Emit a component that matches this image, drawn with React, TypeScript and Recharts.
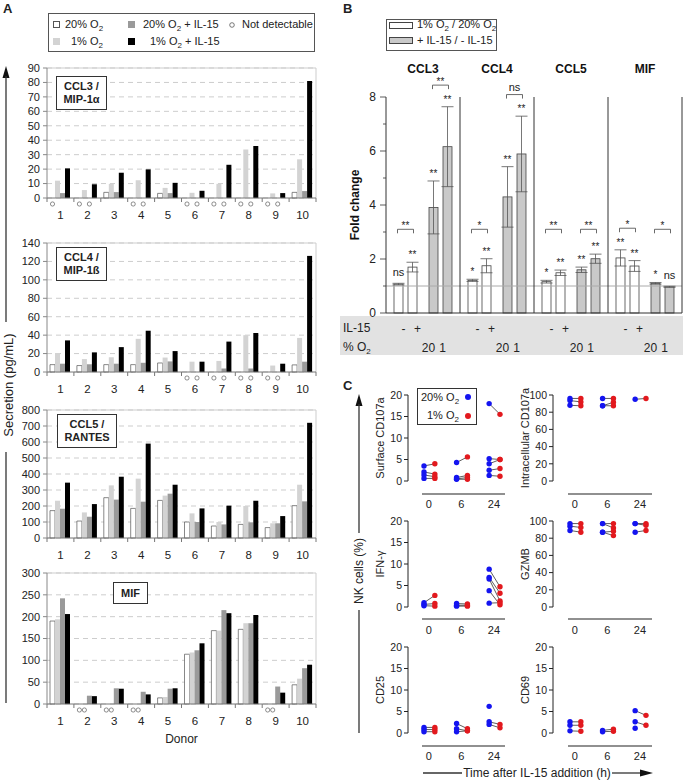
import React from "react";
import {
  BarChart,
  Bar,
  XAxis,
  YAxis,
  CartesianGrid,
  ReferenceLine,
  ErrorBar,
  LineChart,
  Line,
  Label,
} from "recharts";

const FONT = "'Liberation Sans', Arial, Helvetica, sans-serif";

// ---------- Panel A: secretion per donor (pg/mL); null = not detectable ----------
const donors = ["1", "2", "3", "4", "5", "6", "7", "8", "9", "10"];

const ccl3Normoxia = [null, null, 3.9, null, 3.2, null, null, null, null, 3.9];
const ccl3Hypoxia = [12, 5.5, 9.8, 12.3, 7, 3.6, 9.8, 33.6, 3.2, 26.8];
const ccl3NormoxiaIl15 = [3.4, null, 4.1, null, 3.4, null, null, null, null, 4.8];
const ccl3HypoxiaIl15 = [20.5, 9.5, 17.5, 19.8, 10.5, 5, 23, 36, 3.4, 81];
const ccl3NotDetectable = [[0], [0, 2], [], [0, 2], [], [0, 2], [0, 2], [0, 2], [0, 2], []];
const ccl3Ticks = [0, 10, 20, 30, 40, 50, 60, 70, 80, 90];

const ccl4Normoxia = [8, 7, 8, 8, 9.8, null, null, null, null, 7.7];
const ccl4Hypoxia = [20.6, 14, 16, 36, 15.7, 11.2, 12, 40, 7, 37];
const ccl4NormoxiaIl15 = [9, 8.4, 9, 10, 11.5, null, 3.8, 3.8, null, 11.2];
const ccl4HypoxiaIl15 = [34.3, 21.3, 27, 44.8, 22.7, 11.2, 33, 42.3, 9, 126];
const ccl4NotDetectable = [[], [], [], [], [], [0, 2], [0, 2], [0, 2], [0, 2], []];
const ccl4Ticks = [0, 20, 40, 60, 80, 100, 120, 140];

const ccl5Normoxia = [171, 106, 252, 185, 235, 100, 75, 85, 65, 202];
const ccl5Hypoxia = [233, 160, 329, 371, 265, 154, 100, 200, 92, 333];
const ccl5NormoxiaIl15 = [183, 133, 240, 227, 277, 100, 85, 98, 92, 229];
const ccl5HypoxiaIl15 = [346, 212, 383, 590, 333, 185, 202, 233, 137, 720];
const ccl5NotDetectable = [[], [], [], [], [], [], [], [], [], []];
const ccl5Ticks = [0, 100, 200, 300, 400, 500, 600, 700, 800];

const mifNormoxia = [190, null, null, null, 14, 114, 168, 171, null, 44];
const mifHypoxia = [194, null, null, null, 16, 118, 168, 185, null, 58];
const mifNormoxiaIl15 = [242, 19, 36, 28, 35, 123, 215, 185, 40, 82];
const mifHypoxiaIl15 = [206, 18, 35, 22, 36, 139, 208, 204, 26, 90];
const mifNotDetectable = [[], [0, 1], [0, 1], [0, 1], [], [], [], [], [0, 1], []];
const mifTicks = [0, 50, 100, 150, 200, 250, 300];

// ---------- Panel B: fold change ----------
const cytokines = ["CCL3", "CCL4", "CCL5", "MIF"];
const hypoxiaNoIl15 = [1.07, 1.21, 1.16, 2.04];
const hypoxiaNoIl15Sem = [0.03, 0.04, 0.05, 0.3];
const hypoxiaNoIl15Sig = ["ns", "*", "*", "**"];
const hypoxiaIl15 = [1.7, 1.75, 1.49, 1.74];
const hypoxiaIl15Sem = [0.18, 0.26, 0.1, 0.2];
const hypoxiaIl15Sig = ["**", "**", "**", "**"];
const il15Normoxia = [3.91, 4.3, 1.6, 1.1];
const il15NormoxiaSem = [0.98, 1.12, 0.1, 0.03];
const il15NormoxiaSig = ["**", "**", "**", "*"];
const il15Hypoxia = [6.16, 5.89, 2.01, 0.97];
const il15HypoxiaSem = [1.48, 1.4, 0.17, 0.02];
const il15HypoxiaSig = ["**", "**", "**", "ns"];
const hypoxiaPairSig = ["**", "*", "**", "*"];
const il15PairSig = ["**", "ns", "**", "*"];
const foldTicks = [0, 1, 2, 3, 4, 5, 6, 7, 8];
const il15Row = ["-", "+"];
const o2Row = ["20", "1"];

// ---------- Panel C: NK cells (%), pairs [time, 20% O2, 1% O2] ----------
const times = ["0", "6", "24"];
type Pair = [string, number, number | null];
const surfaceCd107a: Pair[] = [
  ["0", 3.5, 4.0], ["0", 2.1, 1.6], ["0", 1.4, 1.0], ["0", 0.6, 0.6],
  ["6", 4.3, 5.6], ["6", 0.8, 1.3], ["6", 0.5, 0.8], ["6", 0.4, 0.4],
  ["24", 18, 15.5], ["24", 5.2, 5.0], ["24", 4.0, 5.0], ["24", 2.5, 2.9], ["24", 1.3, 1.1],
];
const intracellularCd107a: Pair[] = [
  ["0", 96, 96], ["0", 93.5, 92], ["0", 88, 87.5],
  ["6", 96, 96], ["6", 87.5, 91.5], ["6", 87.5, 87.5],
  ["24", 95, 96],
];
const ifng: Pair[] = [
  ["0", 1.0, 2.7], ["0", 0.6, 0.8], ["0", 0.3, 0.2],
  ["6", 0.8, 0.7], ["6", 0.4, 0.4], ["6", 0.2, 0.2],
  ["24", 8.8, 4.7], ["24", 6.9, 3.2], ["24", 6.5, 1.4], ["24", 3.8, 0.5], ["24", 0.9, 1.0],
];
const gzmb: Pair[] = [
  ["0", 97, 97], ["0", 94, 92.5], ["0", 89, 87],
  ["6", 97, 97], ["6", 97, 92], ["6", 87, 88], ["6", 87, 83],
  ["24", 97, 97], ["24", 97, 95], ["24", 87, 89],
];
const cd25: Pair[] = [
  ["0", 1.3, 1.3], ["0", 0.8, 0.8], ["0", 0.3, 0.3],
  ["6", 2.2, 1.0], ["6", 1.0, 0.5], ["6", 0.3, 0.5],
  ["24", 6.2, null], ["24", 2.6, 2.0], ["24", 2.0, 1.2],
];
const cd69: Pair[] = [
  ["0", 2.6, 2.6], ["0", 1.8, 1.8], ["0", 0.5, 0.4],
  ["6", 0.6, 0.9], ["6", 0.3, 0.4],
  ["24", 5.2, 4.1], ["24", 2.6, 1.8], ["24", 1.1, null],
];
const percentTicks20 = [0, 5, 10, 15, 20];
const percentTicks100 = [0, 20, 40, 60, 80, 100];

const BLUE = "#1414f0";
const RED = "#e2191e";

// ---------- helpers ----------
function secretionRows(a: any[], b: any[], c: any[], d: any[]) {
  return donors.map((donor, i) => ({
    donor,
    normoxia: a[i],
    hypoxia: b[i],
    normoxiaIl15: c[i],
    hypoxiaIl15: d[i],
  }));
}

const A_BAND = (316 - 47) / 10;
const A_BAR = 5;

function DonorTick(props: any) {
  const { x, y, payload, nd } = props;
  const i = payload.index ?? props.index;
  const start = x - A_BAND / 2;
  const groupStart = start + Math.floor((A_BAND - 4 * A_BAR) / 2);
  return (
    <g>
      <line x1={start} x2={start} y1={y} y2={y + 4} stroke="#777" />
      {i === donors.length - 1 && (
        <line x1={start + A_BAND} x2={start + A_BAND} y1={y} y2={y + 4} stroke="#777" />
      )}
      {(nd[i] || []).map((s: number) => (
        <circle
          key={s}
          cx={groupStart + A_BAR / 2 + s * A_BAR}
          cy={y + 6}
          r={2.1}
          fill="#fff"
          stroke="#444"
          strokeWidth={0.6}
        />
      ))}
      <text x={x} y={y + 21} textAnchor="middle" fontSize={11.5} fill="#222">
        {payload.value}
      </text>
    </g>
  );
}

function SecretionChart({ top, plotHeight, ticks, rows, nd, xLabel }: any) {
  const max = ticks[ticks.length - 1];
  const axisH = xLabel ? 45 : 30;
  return (
    <div style={{ position: "absolute", left: 0, top }}>
      <BarChart
        width={320}
        height={8 + plotHeight + axisH}
        data={rows}
        margin={{ top: 8, right: 4, left: 0, bottom: 0 }}
        barGap={0}
      >
        <CartesianGrid vertical={false} stroke="#cdcdcd" strokeDasharray="5 4" />
        <ReferenceLine y={max} stroke="#cdcdcd" />
        <ReferenceLine x="10" position="end" stroke="#cdcdcd" />
        <XAxis
          dataKey="donor"
          height={axisH}
          interval={0}
          tickSize={0}
          tickMargin={0}
          axisLine={{ stroke: "#777" }}
          tickLine={false}
          tick={(p: any) => <DonorTick {...p} nd={nd} />}
        >
          {xLabel && (
            <Label value={xLabel} position="insideBottom" offset={6} style={{ fontSize: 12, fill: "#222" }} />
          )}
        </XAxis>
        <YAxis
          width={47}
          domain={[0, max]}
          ticks={ticks}
          interval={0}
          tickSize={4}
          tickMargin={3}
          axisLine={{ stroke: "#888" }}
          tickLine={{ stroke: "#888" }}
          tick={{ fontSize: 11, fill: "#222" }}
        />
        <Bar dataKey="normoxia" barSize={A_BAR} fill="#fff" stroke="#555" strokeWidth={0.7} isAnimationActive={false} />
        <Bar dataKey="hypoxia" barSize={A_BAR} fill="#d3d3d3" isAnimationActive={false} />
        <Bar dataKey="normoxiaIl15" barSize={A_BAR} fill="#9a9a9a" isAnimationActive={false} />
        <Bar dataKey="hypoxiaIl15" barSize={A_BAR} fill="#000" isAnimationActive={false} />
      </BarChart>
    </div>
  );
}

// Panel B bar geometry
const B_BAR = 9;
const B_GAP = 5;

const foldRows = cytokines.map((cytokine, i) => ({
  cytokine,
  hyp: hypoxiaNoIl15[i],
  hypErr: hypoxiaNoIl15Sem[i],
  hypSig: hypoxiaNoIl15Sig[i],
  hypIl: hypoxiaIl15[i],
  hypIlErr: hypoxiaIl15Sem[i],
  hypIlSig: hypoxiaIl15Sig[i],
  il20: il15Normoxia[i],
  il20Err: il15NormoxiaSem[i],
  il20Sig: il15NormoxiaSig[i],
  il1: il15Hypoxia[i],
  il1Err: il15HypoxiaSem[i],
  il1Sig: il15HypoxiaSig[i],
  hypPair: hypoxiaPairSig[i],
  ilPair: il15PairSig[i],
}));

function sigText(x: number, yRef: number, s: string) {
  const ns = s === "ns";
  return (
    <text x={x} y={ns ? yRef - 7 : yRef - 4} textAnchor="middle" fontSize={ns ? 11 : 10} fill="#222">
      {s}
    </text>
  );
}

function FoldBar(props: any) {
  const { x, y, width, height, payload, v, e, s, pv, pe, ps, fillColor } = props;
  if (x == null || !height) return <g />;
  const value = payload[v];
  const err = payload[e];
  const ppu = height / value;
  const base = y + height;
  const cx = x + width / 2;
  const errTop = base - (value + err) * ppu;
  let bracket = null;
  if (pv) {
    const lvl = Math.max(3.1, Math.max(payload[pv] + payload[pe], value + err) + 0.8);
    const by = base - lvl * ppu;
    const pcx = cx - (width + B_GAP);
    const label = payload[ps];
    bracket = (
      <g>
        <path d={`M${pcx - 1},${by + 4}V${by}H${cx + 1}V${by + 4}`} fill="none" stroke="#444" strokeWidth={0.8} />
        <text
          x={(pcx + cx) / 2}
          y={label === "ns" ? by - 4 : by}
          textAnchor="middle"
          fontSize={label === "ns" ? 11 : 10}
          fill="#222"
        >
          {label}
        </text>
      </g>
    );
  }
  return (
    <g>
      <rect x={x} y={y} width={width} height={height} fill={fillColor} stroke="#444" strokeWidth={0.8} />
      {sigText(cx, errTop, payload[s])}
      {bracket}
    </g>
  );
}

function FoldTick(props: any) {
  const { x, y, payload } = props;
  const major = payload.value % 2 === 0;
  return (
    <g>
      <line x1={x - (major ? 6 : 3)} x2={x} y1={y} y2={y} stroke="#333" strokeWidth={0.8} />
      {major && (
        <text x={x - 10} y={y + 4} textAnchor="end" fontSize={12} fill="#222">
          {payload.value}
        </text>
      )}
    </g>
  );
}

function TableTick(props: any) {
  const { x, y } = props;
  const off = [-(B_BAR + B_GAP) - B_BAR / 2 - 1, -B_BAR / 2 - 1];
  return (
    <g fontSize={12} fill="#222">
      <text x={x + off[0]} y={y + 20} textAnchor="middle">{il15Row[0]}</text>
      <text x={x + off[1]} y={y + 20} textAnchor="middle">{il15Row[1]}</text>
      <text x={x - off[1]} y={y + 39} textAnchor="middle">{o2Row[0]}</text>
      <text x={x - off[0]} y={y + 39} textAnchor="middle">{o2Row[1]}</text>
    </g>
  );
}

function TitleTick(props: any) {
  const { x, y, payload } = props;
  return (
    <text x={x} y={y - 24} textAnchor="middle" fontSize={12} fontWeight="bold" fill="#111">
      {payload.value}
    </text>
  );
}

function FoldChart() {
  return (
    <div style={{ position: "absolute", left: 340, top: 60 }}>
      <BarChart
        width={343}
        height={300}
        data={foldRows}
        margin={{ top: 7, right: 1, left: 0, bottom: 0 }}
        barGap={B_GAP}
      >
        <XAxis
          dataKey="cytokine"
          height={47}
          interval={0}
          tickSize={0}
          tickMargin={0}
          axisLine={{ stroke: "#333" }}
          tickLine={false}
          tick={(p: any) => <TableTick {...p} />}
        />
        <XAxis
          xAxisId="top"
          orientation="top"
          dataKey="cytokine"
          height={30}
          interval={0}
          tickSize={0}
          tickMargin={0}
          axisLine={false}
          tickLine={false}
          tick={(p: any) => <TitleTick {...p} />}
        />
        <YAxis
          width={46}
          domain={[0, 8]}
          ticks={foldTicks}
          interval={0}
          tickSize={0}
          tickMargin={0}
          axisLine={{ stroke: "#333" }}
          tickLine={false}
          tick={(p: any) => <FoldTick {...p} />}
        >
          <Label
            value="Fold change"
            angle={-90}
            position="insideLeft"
            offset={15}
            style={{ fontSize: 12, fontWeight: "bold", fill: "#111", textAnchor: "middle" }}
          />
        </YAxis>
        <ReferenceLine y={1} stroke="#aaa" />
        {cytokines.map((c) => (
          <ReferenceLine key={c} x={c} position="end" stroke="#333" />
        ))}
        <Bar
          dataKey="hyp"
          barSize={B_BAR}
          isAnimationActive={false}
          shape={(p: any) => <FoldBar {...p} v="hyp" e="hypErr" s="hypSig" fillColor="#fff" />}
        >
          <ErrorBar dataKey="hypErr" width={6} stroke="#555" strokeWidth={0.8} />
        </Bar>
        <Bar
          dataKey="hypIl"
          barSize={B_BAR}
          isAnimationActive={false}
          shape={(p: any) => (
            <FoldBar {...p} v="hypIl" e="hypIlErr" s="hypIlSig" pv="hyp" pe="hypErr" ps="hypPair" fillColor="#fff" />
          )}
        >
          <ErrorBar dataKey="hypIlErr" width={6} stroke="#555" strokeWidth={0.8} />
        </Bar>
        <Bar dataKey="spacer" barSize={2} fill="none" isAnimationActive={false} />
        <Bar
          dataKey="il20"
          barSize={B_BAR}
          isAnimationActive={false}
          shape={(p: any) => <FoldBar {...p} v="il20" e="il20Err" s="il20Sig" fillColor="#c9c9c9" />}
        >
          <ErrorBar dataKey="il20Err" width={6} stroke="#555" strokeWidth={0.8} />
        </Bar>
        <Bar
          dataKey="il1"
          barSize={B_BAR}
          isAnimationActive={false}
          shape={(p: any) => (
            <FoldBar {...p} v="il1" e="il1Err" s="il1Sig" pv="il20" pe="il20Err" ps="ilPair" fillColor="#c9c9c9" />
          )}
        >
          <ErrorBar dataKey="il1Err" width={6} stroke="#555" strokeWidth={0.8} />
        </Bar>
      </BarChart>
    </div>
  );
}

// Panel C
const C_SLOT = 9.5;

function pairRows(pairs: Pair[]) {
  const rows: any[] = [];
  times.forEach((t, ti) => {
    rows.push({ slot: `${t}:20`, time: t, o2: "20" });
    rows.push({ slot: `${t}:1`, time: t, o2: "1" });
    if (ti < times.length - 1) rows.push({ slot: `${t}:gap`, time: t, o2: "" });
  });
  pairs.forEach(([t, a, b], i) => {
    rows.forEach((r) => {
      r[`p${i}`] = r.time !== t ? null : r.o2 === "20" ? a : r.o2 === "1" ? b : null;
    });
  });
  return rows;
}

const renderDot = (p: any) => {
  const { cx, cy, payload, index, value } = p;
  if (value == null || cx == null || cy == null) return <g key={`d${index}`} />;
  return <circle key={`d${index}`} cx={cx} cy={cy} r={2.7} fill={payload.o2 === "20" ? BLUE : RED} />;
};

function TimeTick(props: any) {
  const { x, y, payload } = props;
  const [t, o2] = String(payload.value).split(":");
  if (o2 !== "20") return <g />;
  return (
    <text x={x + C_SLOT / 2} y={y + 27} textAnchor="middle" fontSize={11} fill="#222">
      {t}
    </text>
  );
}

function PairChart({ left, top, pairs, ticks, label, padLeft, padRight }: any) {
  const rows = pairRows(pairs);
  const max = ticks[ticks.length - 1];
  return (
    <div style={{ position: "absolute", left, top }}>
      <LineChart width={150} height={126} data={rows} margin={{ top: 10, right: 5, left: 0, bottom: 0 }}>
        <XAxis
          dataKey="slot"
          height={30}
          padding={{ left: padLeft, right: padRight }}
          interval={0}
          tickSize={0}
          tickMargin={0}
          axisLine={false}
          tickLine={false}
          tick={(p: any) => <TimeTick {...p} />}
        />
        <YAxis
          width={48}
          domain={[0, max]}
          ticks={ticks}
          interval={0}
          tickSize={4}
          tickMargin={2}
          axisLine={{ stroke: "#222" }}
          tickLine={{ stroke: "#222" }}
          tick={{ fontSize: 10.5, fill: "#222" }}
        >
          <Label
            value={label}
            angle={-90}
            position="insideLeft"
            offset={20}
            style={{ fontSize: 11, fill: "#222", textAnchor: "middle" }}
          />
        </YAxis>
        {pairs.map((_: Pair, i: number) => (
          <Line
            key={i}
            dataKey={`p${i}`}
            stroke="#333"
            strokeWidth={0.8}
            dot={renderDot}
            activeDot={false}
            isAnimationActive={false}
          />
        ))}
      </LineChart>
    </div>
  );
}

const abs = (left: number, top: number, extra: any = {}) => ({ position: "absolute" as const, left, top, ...extra });

function Swatch({ left, top, color, border }: any) {
  return (
    <div style={abs(left, top, { width: 7, height: 7, background: color, border: border ? "1px solid #555" : "none", boxSizing: "border-box" })} />
  );
}

function TitleBox({ left, top, width, height, lines }: any) {
  return (
    <div
      style={abs(left, top, {
        width,
        height,
        border: "1px solid #333",
        background: "#fff",
        boxSizing: "border-box",
        fontSize: 11,
        fontWeight: "bold",
        lineHeight: "13px",
        display: "flex",
        flexDirection: "column",
        justifyContent: "center",
        alignItems: "center",
      })}
    >
      {lines.map((l: string) => (
        <div key={l}>{l}</div>
      ))}
    </div>
  );
}

export default function App() {
  return (
    <div
      style={{
        position: "absolute",
        left: 0,
        top: 0,
        width: 683,
        height: 780,
        background: "#fff",
        fontFamily: FONT,
        color: "#222",
        overflow: "hidden",
      }}
    >
      {/* Panel A */}
      <div style={abs(3, 1, { fontSize: 13, fontWeight: "bold" })}>A</div>
      <div style={abs(48, 13, { width: 267, height: 39, border: "1px solid #555", boxSizing: "border-box" })} />
      <Swatch left={53} top={21} color="#fff" border />
      <div style={abs(65, 18, { fontSize: 11 })}>20% O<sub style={{ fontSize: 8 }}>2</sub></div>
      <Swatch left={128} top={21} color="#9a9a9a" />
      <div style={abs(143, 18, { fontSize: 11 })}>20% O<sub style={{ fontSize: 8 }}>2</sub> + IL-15</div>
      <svg style={abs(228, 21)} width={8} height={8}>
        <circle cx={4} cy={4} r={2.3} fill="#fff" stroke="#444" strokeWidth={0.7} />
      </svg>
      <div style={abs(242, 18, { fontSize: 11 })}>Not detectable</div>
      <Swatch left={53} top={38} color="#d3d3d3" />
      <div style={abs(71, 35, { fontSize: 11 })}>1% O<sub style={{ fontSize: 8 }}>2</sub></div>
      <Swatch left={128} top={38} color="#000" />
      <div style={abs(150, 35, { fontSize: 11 })}>1% O<sub style={{ fontSize: 8 }}>2</sub> + IL-15</div>

      <SecretionChart
        top={60}
        plotHeight={130}
        ticks={ccl3Ticks}
        rows={secretionRows(ccl3Normoxia, ccl3Hypoxia, ccl3NormoxiaIl15, ccl3HypoxiaIl15)}
        nd={ccl3NotDetectable}
      />
      <SecretionChart
        top={235}
        plotHeight={129}
        ticks={ccl4Ticks}
        rows={secretionRows(ccl4Normoxia, ccl4Hypoxia, ccl4NormoxiaIl15, ccl4HypoxiaIl15)}
        nd={ccl4NotDetectable}
      />
      <SecretionChart
        top={402}
        plotHeight={128}
        ticks={ccl5Ticks}
        rows={secretionRows(ccl5Normoxia, ccl5Hypoxia, ccl5NormoxiaIl15, ccl5HypoxiaIl15)}
        nd={ccl5NotDetectable}
      />
      <SecretionChart
        top={565}
        plotHeight={131}
        ticks={mifTicks}
        rows={secretionRows(mifNormoxia, mifHypoxia, mifNormoxiaIl15, mifHypoxiaIl15)}
        nd={mifNotDetectable}
        xLabel="Donor"
      />
      <TitleBox left={56} top={76} width={51} height={34} lines={["CCL3 /", "MIP-1α"]} />
      <TitleBox left={56} top={247} width={51} height={34} lines={["CCL4 /", "MIP-1ß"]} />
      <TitleBox left={57} top={414} width={60} height={34} lines={["CCL5 /", "RANTES"]} />
      <TitleBox left={113} top={582} width={35} height={22} lines={["MIF"]} />

      <svg style={abs(0, 60)} width={14} height={660}>
        <path d="M6,6 L2.5,18 L9.5,18 Z" fill="#111" />
        <line x1={6} x2={6} y1={16} y2={262} stroke="#333" strokeWidth={1.3} />
        <line x1={6} x2={6} y1={392} y2={643} stroke="#333" strokeWidth={1.3} />
      </svg>
      <div
        style={abs(8, 385, {
          fontSize: 13,
          transform: "translate(-50%, -50%) rotate(-90deg)",
          whiteSpace: "nowrap",
        })}
      >
        Secretion (pg/mL)
      </div>

      {/* Panel B */}
      <div style={abs(343, 1, { fontSize: 13, fontWeight: "bold" })}>B</div>
      <div style={abs(340, 316, { width: 343, height: 39, background: "#e2e2e2" })} />
      <div style={abs(343, 321, { fontSize: 12 })}>IL-15</div>
      <div style={abs(343, 340, { fontSize: 12 })}>% O<sub style={{ fontSize: 8 }}>2</sub></div>
      <FoldChart />
      <div style={abs(386, 19, { width: 111, height: 32, border: "1px solid #555", boxSizing: "border-box" })} />
      <div style={abs(389, 22, { width: 24, height: 7, border: "1px solid #444", background: "#fff", boxSizing: "border-box" })} />
      <div style={abs(417, 18, { fontSize: 11 })}>1% O<sub style={{ fontSize: 8 }}>2</sub> / 20% O<sub style={{ fontSize: 8 }}>2</sub></div>
      <div style={abs(389, 37, { width: 24, height: 7, border: "1px solid #444", background: "#c9c9c9", boxSizing: "border-box" })} />
      <div style={abs(417, 34, { fontSize: 11 })}>+ IL-15 / - IL-15</div>

      {/* Panel C */}
      <div style={abs(343, 378, { fontSize: 13, fontWeight: "bold" })}>C</div>
      <PairChart left={360} top={385} pairs={surfaceCd107a} ticks={percentTicks20} label="Surface CD107a" padLeft={16} padRight={5} />
      <PairChart left={505} top={385} pairs={intracellularCd107a} ticks={percentTicks100} label="Intracellular CD107a" padLeft={17} padRight={4} />
      <PairChart left={360} top={511} pairs={ifng} ticks={percentTicks20} label="IFN-γ" padLeft={16} padRight={5} />
      <PairChart left={505} top={511} pairs={gzmb} ticks={percentTicks100} label="GZMB" padLeft={17} padRight={4} />
      <PairChart left={360} top={637} pairs={cd25} ticks={percentTicks20} label="CD25" padLeft={16} padRight={5} />
      <PairChart left={505} top={637} pairs={cd69} ticks={percentTicks20} label="CD69" padLeft={17} padRight={4} />

      <svg style={abs(0, 0, { pointerEvents: "none" })} width={683} height={780}>
        {[494, 619, 746].map((y) => (
          <g key={y}>
            <line x1={422} x2={505} y1={y} y2={y} stroke="#222" strokeWidth={1.2} />
            <line x1={568} x2={652} y1={y} y2={y} stroke="#222" strokeWidth={1.2} />
          </g>
        ))}
        <path d="M359,394 L355.5,406 L362.5,406 Z" fill="#111" />
        <line x1={359} x2={359} y1={404} y2={533} stroke="#333" strokeWidth={1.3} />
        <line x1={359} x2={359} y1={610} y2={733} stroke="#333" strokeWidth={1.3} />
        <line x1={423} x2={462} y1={773} y2={773} stroke="#333" strokeWidth={1.3} />
        <line x1={612} x2={642} y1={773} y2={773} stroke="#333" strokeWidth={1.3} />
        <path d="M653,773 L640,769.5 L640,776.5 Z" fill="#111" />
      </svg>
      <div
        style={abs(359, 571, {
          fontSize: 12,
          transform: "translate(-50%, -50%) rotate(-90deg)",
          whiteSpace: "nowrap",
        })}
      >
        NK cells (%)
      </div>
      <div style={abs(537, 773, { fontSize: 12, transform: "translate(-50%, -50%)", whiteSpace: "nowrap" })}>
        Time after IL-15 addition (h)
      </div>

      <div style={abs(417, 388, { width: 60, height: 37, border: "1px solid #333", background: "#fff", boxSizing: "border-box" })} />
      <div style={abs(421, 391, { fontSize: 11 })}>20% O<sub style={{ fontSize: 8 }}>2</sub></div>
      <div style={abs(427, 409, { fontSize: 11 })}>1% O<sub style={{ fontSize: 8 }}>2</sub></div>
      <svg style={abs(462, 391)} width={12} height={32}>
        <circle cx={6} cy={6} r={3} fill={BLUE} />
        <circle cx={6} cy={25} r={3} fill={RED} />
      </svg>
    </div>
  );
}
